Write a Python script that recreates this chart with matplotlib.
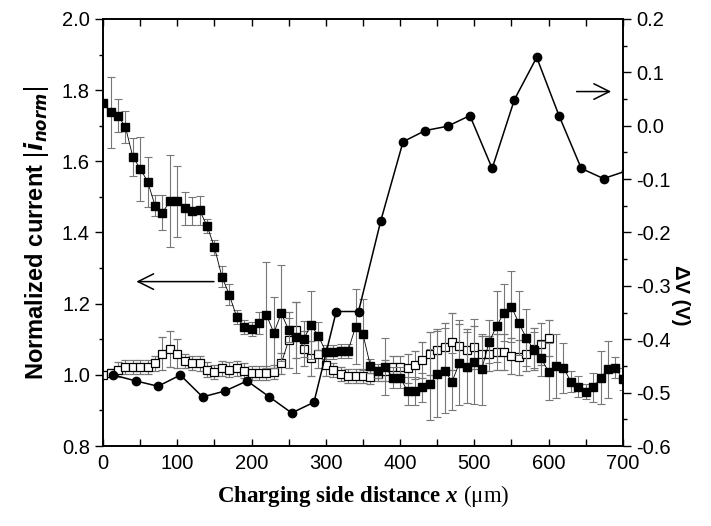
import matplotlib
matplotlib.use('Agg')
import matplotlib.pyplot as plt
import numpy as np

plt.rcParams['font.family'] = ['Liberation Sans', 'DejaVu Sans']
plt.rcParams['mathtext.fontset'] = 'custom'
plt.rcParams['mathtext.rm'] = 'Liberation Serif'
plt.rcParams['mathtext.bf'] = 'Liberation Serif:bold'
plt.rcParams['mathtext.it'] = 'Liberation Serif:italic:bold'

#%% data
# filled squares: normalized current, every 10 um from 0 to 700
x_fill = np.arange(0, 701, 10)
i_fill = [1.763, 1.738, 1.728, 1.697, 1.613, 1.579, 1.543, 1.475, 1.456, 1.488,
          1.488, 1.468, 1.460, 1.462, 1.419, 1.358, 1.276, 1.225, 1.162, 1.135,
          1.128, 1.146, 1.168, 1.118, 1.173, 1.126, 1.106, 1.100, 1.140, 1.109,
          1.065, 1.065, 1.068, 1.068, 1.135, 1.114, 1.025, 1.010, 1.023, 0.992,
          0.992, 0.955, 0.955, 0.965, 0.974, 1.002, 1.012, 0.981, 1.034, 1.021,
          1.037, 1.016, 1.093, 1.137, 1.175, 1.191, 1.145, 1.104, 1.070, 1.046,
          1.009, 1.026, 1.020, 0.981, 0.967, 0.953, 0.965, 0.992, 1.016, 1.020,
          0.988]
e_fill = [0.00, 0.10, 0.047, 0.045, 0.053, 0.09, 0.07, 0.03, 0.05, 0.13,
          0.10, 0.047, 0.04, 0.04, 0.02, 0.02, 0.03, 0.03, 0.02, 0.02,
          0.02, 0.03, 0.15, 0.10, 0.135, 0.035, 0.10, 0.05, 0.095, 0.04,
          0.02, 0.02, 0.02, 0.02, 0.105, 0.10, 0.02, 0.02, 0.08, 0.03,
          0.03, 0.04, 0.04, 0.04, 0.10, 0.12, 0.12, 0.08, 0.12, 0.10,
          0.12, 0.10, 0.06, 0.10, 0.08, 0.10, 0.09, 0.08, 0.05, 0.05,
          0.08, 0.09, 0.07, 0.03, 0.03, 0.02, 0.04, 0.075, 0.08, 0.03,
          0.03]

# open squares: normalized current, every 10 um from 0 to 600
x_open = np.arange(0, 601, 10)
i_open = [1.000, 1.006, 1.015, 1.023, 1.023, 1.023, 1.023, 1.032, 1.060, 1.072,
          1.060, 1.040, 1.034, 1.032, 1.015, 1.009, 1.018, 1.015, 1.018, 1.012,
          1.006, 1.005, 1.005, 1.009, 1.032, 1.098, 1.126, 1.074, 1.046, 1.060,
          1.028, 1.013, 1.002, 0.997, 0.997, 0.997, 0.993, 1.002, 1.012, 1.023,
          1.023, 1.018, 1.028, 1.042, 1.060, 1.070, 1.077, 1.093, 1.082, 1.070,
          1.077, 1.060, 1.060, 1.065, 1.065, 1.053, 1.049, 1.060, 1.073, 1.087,
          1.103]
e_open = [0.01, 0.01, 0.02, 0.02, 0.02, 0.02, 0.02, 0.02, 0.047, 0.05,
          0.04, 0.02, 0.02, 0.02, 0.02, 0.02, 0.02, 0.02, 0.02, 0.02,
          0.02, 0.02, 0.02, 0.02, 0.03, 0.08, 0.08, 0.05, 0.05, 0.04,
          0.03, 0.02, 0.02, 0.02, 0.02, 0.02, 0.02, 0.02, 0.03, 0.03,
          0.03, 0.04, 0.04, 0.05, 0.06, 0.06, 0.07, 0.08, 0.06, 0.06,
          0.06, 0.05, 0.05, 0.05, 0.05, 0.05, 0.05, 0.05, 0.06, 0.06,
          0.05]

# filled circles: potential difference (right axis)
x_dv = [14, 44, 74, 104, 134, 164, 194, 224, 254, 284, 314, 344,
        374, 404, 434, 464, 494, 524, 554, 584, 614, 644, 674, 704]
dv = [-0.467, -0.478, -0.488, -0.467, -0.508, -0.497, -0.478, -0.508,
      -0.538, -0.518, -0.348, -0.348, -0.178, -0.030, -0.009, -0.001,
      0.019, -0.080, 0.049, 0.128, 0.019, -0.080, -0.099, -0.085]

#%%
fig = plt.figure(figsize=(7.11, 5.26), dpi=100)
ax = fig.add_axes([0.145, 0.152, 0.731, 0.812])
ax2 = ax.twinx()

ecol = '#777777'
ax.errorbar(x_open, i_open, yerr=e_open, fmt='s', ms=5.5, mfc='white', mec='black',
            mew=0.9, color='black', lw=0.6, ecolor=ecol, elinewidth=0.8,
            capsize=3, capthick=0.8, ls='-', zorder=3)
ax.errorbar(x_fill, i_fill, yerr=e_fill, fmt='s', ms=5.5, mfc='black', mec='black',
            color='black', lw=0.6, ecolor=ecol, elinewidth=0.8,
            capsize=3, capthick=0.8, ls='-', zorder=4)
ax2.plot(x_dv, dv, 'o-', color='black', ms=6, lw=1.1)

ax.set_xlim(0, 700)
ax.set_ylim(0.8, 2.0)
ax2.set_ylim(-0.6, 0.2)

ax.set_xticks(np.arange(0, 701, 100))
ax.set_xticks(np.arange(0, 701, 50), minor=True)
ax.set_yticks(np.arange(0.8, 2.01, 0.2))
ax.set_yticks(np.arange(0.8, 2.01, 0.1), minor=True)
ax.set_yticklabels(['%.1f' % v for v in np.arange(0.8, 2.01, 0.2)])
ax2.set_yticks(np.arange(-0.6, 0.21, 0.1))
ax2.set_yticks(np.arange(-0.6, 0.21, 0.05), minor=True)
ax2.set_yticklabels(['%.1f' % v if abs(v) > 1e-9 else '0.0' for v in np.arange(-0.6, 0.21, 0.1)])

ax.tick_params(axis='x', which='both', direction='in', length=5, top=True,
               labelsize=14.5, width=1.0, pad=6)
ax.tick_params(axis='y', which='major', direction='out', length=6, labelsize=14.5, width=1.0)
ax.tick_params(axis='y', which='minor', direction='out', length=3, width=1.0)
ax2.tick_params(axis='y', which='major', direction='out', length=6, labelsize=14.5, width=1.0)
ax2.tick_params(axis='y', which='minor', direction='out', length=3, width=1.0)
for a in (ax, ax2):
    for s in a.spines.values():
        s.set_linewidth(1.2)

ax.set_ylabel(r'Normalized current $|\mathbfit{i}_{\mathbfit{norm}}|$', fontsize=17,
              fontweight='bold', labelpad=8, math_fontfamily='dejavusans')
ax2.set_ylabel('\u0394V (V)', fontsize=14.5, fontweight='bold', rotation=270,
               ha='center', va='center')
ax2.yaxis.set_label_coords(1.11, 0.354)
ax.set_xlabel(r'$\mathbf{Charging\ side\ distance}\ \mathit{x}\ \mathrm{(\mu m)}$',
              fontsize=16.5, labelpad=7)

# arrows pointing to the axes
ax.annotate('', xy=(41, 1.262), xytext=(153, 1.262),
            arrowprops=dict(arrowstyle='->', color='black', lw=1.1, mutation_scale=28))
ax2.annotate('', xy=(688, 0.064), xytext=(634, 0.064),
             arrowprops=dict(arrowstyle='->', color='black', lw=1.1, mutation_scale=28))

fig.savefig('out.png', dpi=100)
